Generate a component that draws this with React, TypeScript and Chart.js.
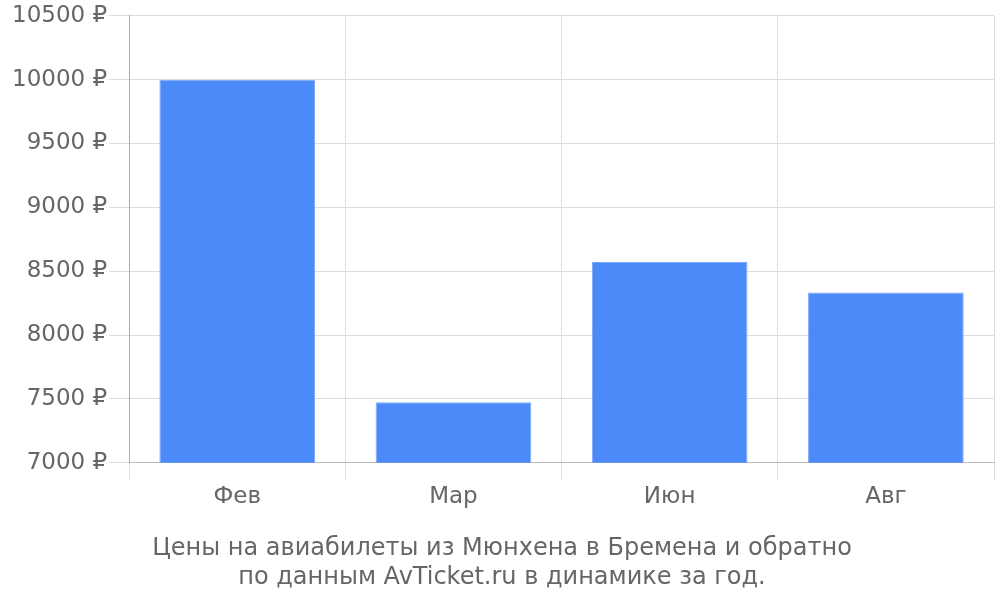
import { useEffect, useRef } from 'react';
import Chart from 'chart.js/auto';

const months = ['Фев', 'Мар', 'Июн', 'Авг'];
const prices = [10000, 7475, 8573, 8333];
const titleLines = [
  'Цены на авиабилеты из Мюнхена в Бремена и обратно',
  'по данным AvTicket.ru в динамике за год.',
];

export default function App() {
  const chartRef = useRef<HTMLCanvasElement>(null);
  const chartInstance = useRef<Chart | null>(null);

  useEffect(() => {
    document.body.style.margin = '0';
    if (!chartRef.current) return;
    const ctx = chartRef.current.getContext('2d');
    if (!ctx) return;

    chartInstance.current = new Chart(ctx, {
      type: 'bar',
      data: {
        labels: months,
        datasets: [
          {
            data: prices,
            backgroundColor: '#4d8af9',
            borderColor: '#7aa8fb',
            borderWidth: 1,
            barPercentage: 0.72,
            categoryPercentage: 1,
          },
        ],
      },
      options: {
        responsive: true,
        maintainAspectRatio: false,
        animation: false,
        layout: { padding: { top: 2, right: 6, left: 10, bottom: 8 } },
        plugins: {
          legend: { display: false },
          tooltip: { enabled: false },
          title: {
            display: true,
            position: 'bottom',
            text: titleLines,
            color: '#666',
            font: { family: 'DejaVu Sans', size: 24, weight: 'normal', lineHeight: 1.2 },
            padding: { top: 22, bottom: 0 },
          },
        },
        scales: {
          x: {
            grid: { color: '#dddddd', tickLength: 18, offset: true },
            border: { color: '#bbbbbb' },
            ticks: {
              color: '#666',
              font: { family: 'DejaVu Sans', size: 23 },
              padding: 2,
            },
          },
          y: {
            min: 7000,
            max: 10500,
            grid: { color: '#dddddd', tickLength: 20 },
            border: { color: '#aaaaaa' },
            ticks: {
              stepSize: 500,
              color: '#666',
              font: { family: 'DejaVu Sans', size: 23 },
              padding: 2,
              callback: (value) => `${value} ₽`,
            },
          },
        },
      },
    });

    return () => {
      if (chartInstance.current) {
        chartInstance.current.destroy();
        chartInstance.current = null;
      }
    };
  }, []);

  return (
    <div style={{ width: 1000, height: 600 }}>
      <canvas ref={chartRef} />
    </div>
  );
}
